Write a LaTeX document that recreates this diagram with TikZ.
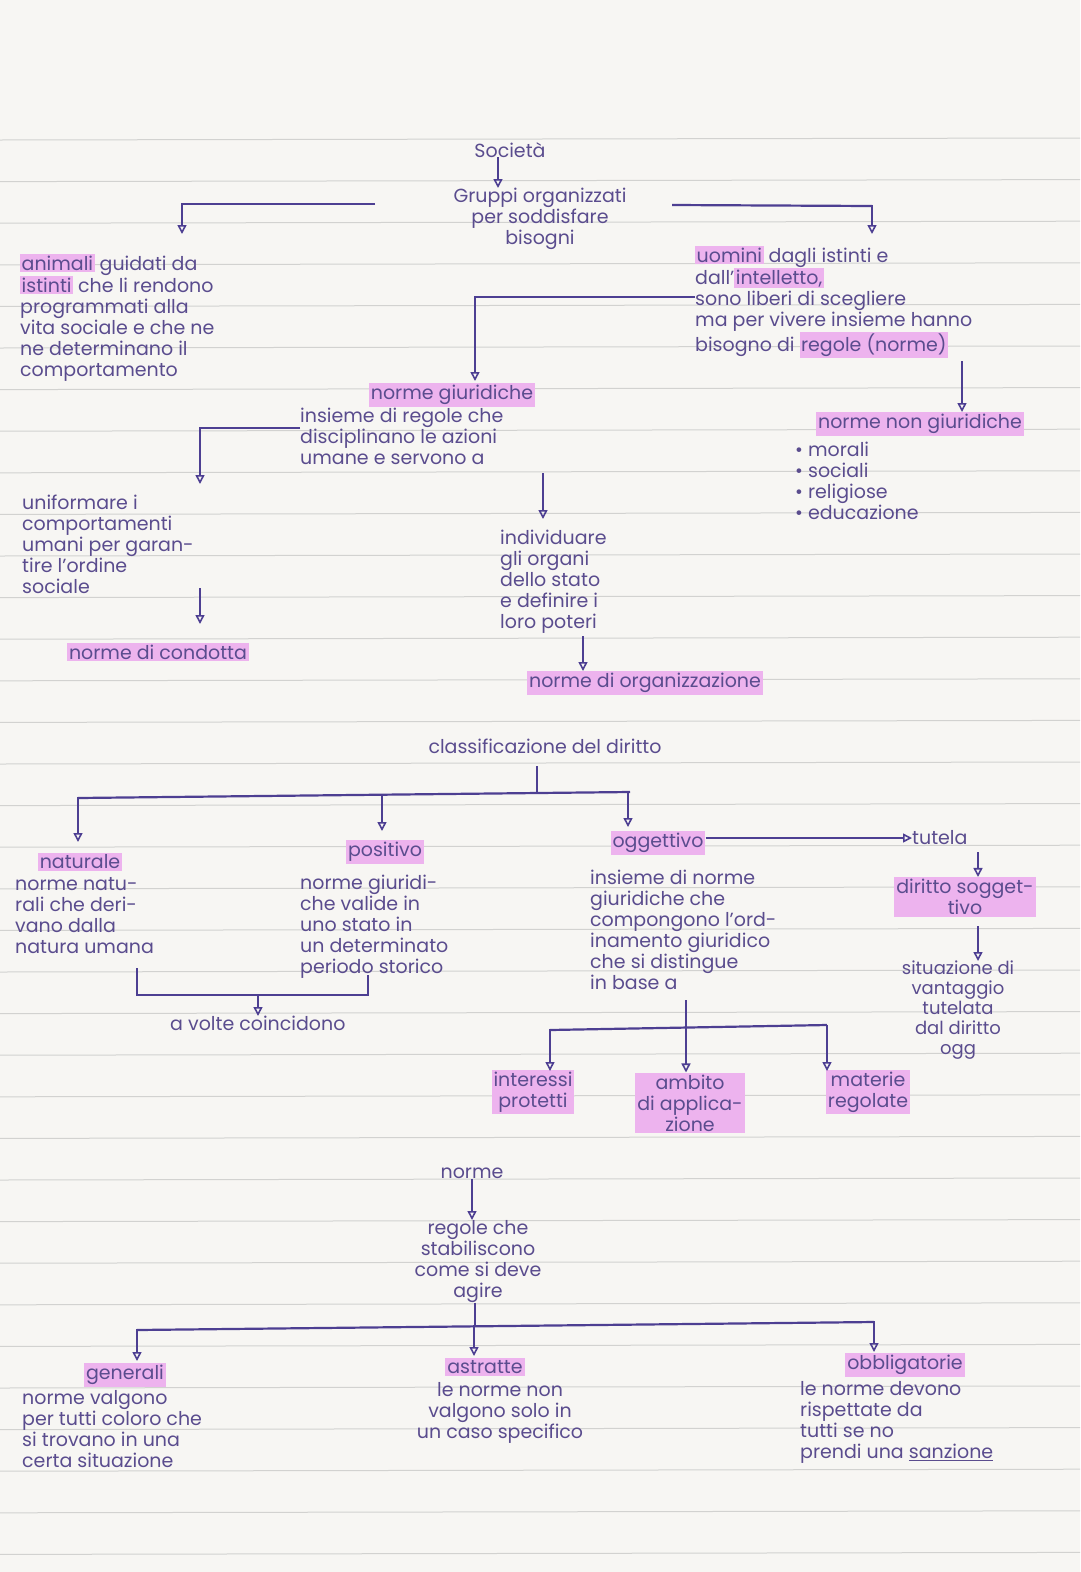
\documentclass[tikz,border=0pt]{standalone}
\usepackage{fontspec}
\setmainfont{Poppins}
\usetikzlibrary{arrows.meta}
\definecolor{ink}{HTML}{5A4C8E}
\definecolor{pen}{HTML}{4D3F92}
\definecolor{hlpink}{HTML}{EDB3EE}
\definecolor{rule}{HTML}{D2D2D0}
\definecolor{paper}{HTML}{F7F6F3}
\newcommand\hl[1]{{\setlength\fboxsep{1.5pt}\colorbox{hlpink}{#1}}}
\tikzset{
  txt/.style={text=ink,font=\fontsize{19}{21}\selectfont,inner sep=0pt,align=left,anchor=north west},
  ctxt/.style={txt,align=center,anchor=north},
  hbox/.style={txt,fill=hlpink,inner sep=2pt,anchor=center,align=center},
  ln/.style={draw=pen,line width=2.2pt},
  ar/.style={draw=pen,line width=1.6pt,-{Triangle[open,length=9pt,width=9pt]}},
}
\begin{document}
\begin{tikzpicture}[x=1pt,y=-1pt]
\fill[paper] (0,0) rectangle (1080,1572);
\useasboundingbox (0,0) rectangle (1080,1572);
\foreach \k in {0,...,34} {\draw[rule,line width=1pt] (0,{140+41.6*\k}) -- (1080,{138+41.6*\k});}
% top
\node[ctxt] (soc) at (510,142) {Società};
\node[ctxt] (grp) at (540,188) {Gruppi organizzati\\per soddisfare\\bisogni};
\draw[ar] (soc.south -| 498,0) -- (grp.north -| 498,0);
\coordinate (gl) at (375,204); \coordinate (gr) at (672,205);
\node[txt] (ani) at (20,254) {\hl{animali} guidati da\\\hl{istinti} che li rendono\\programmati alla\\vita sociale e che ne\\ne determinano il\\comportamento};
\node[txt] (uom) at (695,246) {\hl{uomini} dagli istinti e\\dall'\hl{intelletto,}\\sono liberi di scegliere\\ma per vivere insieme hanno\\bisogno di \hl{regole (norme)}};
\draw[ln] (gl) -- (182,204);
\draw[ar] (182,203) -- (182,234);
\draw[ln] (gr) -- (872,206);
\draw[ar] (872,205) -- (872,234);
\coordinate (ul) at (695,297);
\node[hbox] (ng) at (452,395) {norme giuridiche};
\draw[ln] (ul) -- (475,297);
\draw[ar] (475,296) -- (475,381);
\node[hbox] (nng) at (920,424) {norme non giuridiche};
\draw[ar] (962,361) -- (nng.north -| 962,0);
\node[txt] (nngl) at (795,442) {• morali\\• sociali\\• religiose\\• educazione};
\node[txt] (ins) at (300,408) {insieme di regole che\\disciplinano le azioni\\umane e servono a};
\draw[ln] (ins.north west |- 0,428) -- (200,428);
\draw[ar] (200,427) -- (200,484);
\node[txt] (uni) at (22,495) {uniformare i\\comportamenti\\umani per garan-\\tire l'ordine\\sociale};
\draw[ar] (200,588) -- (200,624);
\node[hbox] (ndc) at (158,652) {norme di condotta};
\draw[ar] (543,473) -- (543,519);
\node[txt] (ind) at (500,530) {individuare\\gli organi\\dello stato\\e definire i\\loro poteri};
\node[hbox] (ndo) at (645,683) {norme di organizzazione};
\draw[ar] (583,636) -- (ndo.north -| 583,0);
% classificazione
\node[ctxt] (cl) at (545,739) {classificazione del diritto};
\draw[ln] (537,766) -- (537,794);
\draw[ln] (78,798) -- (630,792);
\draw[ar] (78,797) -- (78,842);
\draw[ar] (382,794) -- (382,831);
\draw[ar] (628,792) -- (628,827);
\node[hbox] (nat) at (80,862) {naturale};
\node[txt] (natt) at (15,877) {norme natu-\\rali che deri-\\vano dalla\\natura umana};
\node[hbox] (pos) at (385,852) {positivo};
\node[txt] (post) at (300,875) {norme giuridi-\\che valide in\\uno stato in\\un determinato\\periodo storico};
\node[hbox] (ogg) at (658,843) {oggettivo};
\node[txt,anchor=west] (tut) at (912,838) {tutela};
\draw[ar] (ogg.east |- tut.west) -- (tut.west);
\node[txt] (oggt) at (590,870) {insieme di norme\\giuridiche che\\compongono l'ord-\\inamento giuridico\\che si distingue\\in base a};
\node[hbox] (ds) at (965,897) {diritto sogget-\\tivo};
\draw[ar] (978,852) -- (ds.north -| 978,0);
\node[ctxt,font=\fontsize{18}{20}\selectfont] (sit) at (958,961) {situazione di\\vantaggio\\tutelata\\dal diritto\\ogg};
\draw[ar] (978,926) -- (sit.north -| 978,0);
\draw[ln] (137,968) -- (137,995) -- (368,995) -- (368,975);
\node[txt] (avc) at (170,1016) {a volte coincidono};
\draw[ar] (258,995) -- (avc.north -| 258,0);
\draw[ln] (686,1000) -- (686,1028);
\draw[ln] (550,1030) -- (827,1025);
\node[hbox] (int) at (533,1092) {interessi\\protetti};
\node[hbox] (amb) at (690,1103) {ambito\\di applica-\\zione};
\node[hbox] (mat) at (868,1092) {materie\\regolate};
\draw[ar] (550,1029) -- (550,1071);
\draw[ar] (686,1027) -- (amb.north -| 686,0);
\draw[ar] (827,1025) -- (827,1071);
% norme
\node[ctxt] (nor) at (472,1168) {norme};
\node[ctxt] (reg) at (478,1220) {regole che\\stabiliscono\\come si deve\\agire};
\draw[ar] (nor.south -| 472,0) -- (reg.north -| 472,0);
\draw[ln] (reg.south -| 475,0) -- (475,1326);
\draw[ln] (137,1330) -- (874,1322);
\draw[ar] (137,1329) -- (137,1361);
\draw[ar] (474,1325) -- (474,1356);
\draw[ar] (874,1321) -- (874,1352);
\node[hbox] (gen) at (125,1375) {generali};
\node[txt] (gent) at (22,1390) {norme valgono\\per tutti coloro che\\si trovano in una\\certa situazione};
\node[hbox] (ast) at (485,1367) {astratte};
\node[ctxt] (astt) at (500,1382) {le norme non\\valgono solo in\\un caso specifico};
\node[hbox] (obb) at (905,1365) {obbligatorie};
\node[txt] (obbt) at (800,1381) {le norme devono\\rispettate da\\tutti se no\\prendi una \underline{sanzione}};
\end{tikzpicture}
\end{document}
